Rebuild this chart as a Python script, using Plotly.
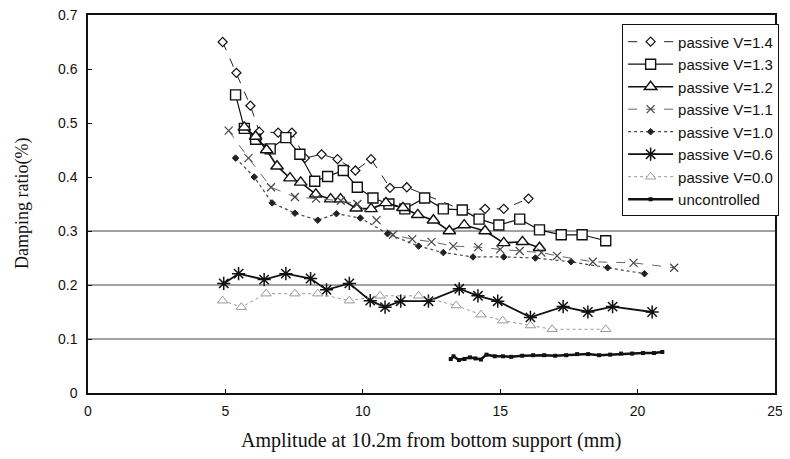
import plotly.graph_objects as go

# ---------------- data ----------------
v14_x = [4.90, 5.40, 5.91, 6.23, 6.92, 7.42, 7.89, 8.50, 9.08, 9.73, 10.30, 10.99, 11.60, 13.62, 14.45, 15.13, 16.03]
v14_y = [0.650, 0.593, 0.532, 0.484, 0.482, 0.482, 0.435, 0.442, 0.433, 0.412, 0.433, 0.380, 0.381, 0.339, 0.341, 0.341, 0.360]

v13_x = [5.37, 5.69, 6.10, 6.63, 7.20, 7.71, 8.25, 8.72, 9.29, 9.80, 10.37, 10.95, 11.53, 12.25, 12.93, 13.62, 14.23, 14.95, 15.71, 16.43, 17.22, 17.98, 18.84]
v13_y = [0.552, 0.490, 0.470, 0.452, 0.473, 0.442, 0.392, 0.401, 0.412, 0.381, 0.361, 0.350, 0.341, 0.361, 0.341, 0.339, 0.322, 0.311, 0.322, 0.302, 0.293, 0.293, 0.282]

v12_x = [5.69, 6.10, 6.50, 6.88, 7.35, 7.74, 8.29, 8.83, 9.19, 9.76, 10.30, 10.84, 11.46, 12.00, 12.57, 13.15, 13.69, 14.45, 15.13, 15.81, 16.43]
v12_y = [0.492, 0.475, 0.450, 0.420, 0.398, 0.390, 0.368, 0.359, 0.359, 0.342, 0.341, 0.352, 0.343, 0.330, 0.320, 0.300, 0.311, 0.300, 0.278, 0.280, 0.269]

v11_x = [5.12, 5.84, 6.66, 7.53, 8.30, 9.20, 9.80, 10.50, 11.10, 11.80, 12.50, 13.29, 14.20, 15.00, 15.71, 16.50, 17.07, 18.37, 19.85, 21.33]
v11_y = [0.486, 0.435, 0.381, 0.363, 0.360, 0.356, 0.350, 0.320, 0.293, 0.285, 0.280, 0.272, 0.270, 0.266, 0.263, 0.260, 0.254, 0.243, 0.241, 0.232]

v10_x = [5.37, 6.05, 6.70, 7.53, 8.36, 9.04, 9.91, 10.90, 12.03, 12.93, 14.01, 15.13, 16.28, 17.58, 18.91, 20.25]
v10_y = [0.435, 0.400, 0.352, 0.333, 0.320, 0.332, 0.324, 0.295, 0.272, 0.260, 0.252, 0.252, 0.250, 0.243, 0.232, 0.221]

v06_x = [4.94, 5.48, 6.41, 7.20, 8.10, 8.68, 9.51, 10.27, 10.81, 11.38, 12.39, 13.51, 14.19, 14.91, 16.10, 17.29, 18.19, 19.09, 20.53]
v06_y = [0.203, 0.221, 0.210, 0.221, 0.212, 0.191, 0.203, 0.171, 0.159, 0.170, 0.170, 0.193, 0.180, 0.170, 0.140, 0.160, 0.150, 0.160, 0.150]

v00_x = [4.90, 5.58, 6.48, 7.53, 8.36, 9.51, 10.63, 12.03, 13.40, 14.30, 15.09, 16.10, 16.89, 18.84]
v00_y = [0.171, 0.159, 0.184, 0.184, 0.184, 0.171, 0.180, 0.180, 0.162, 0.145, 0.134, 0.125, 0.118, 0.118]

unc_x = [13.2, 13.3, 13.5, 13.7, 13.9, 14.1, 14.3, 14.5, 14.8, 15.1, 15.4, 15.8, 16.2, 16.6, 17.0, 17.4, 17.8, 18.2, 18.6, 19.0, 19.4, 19.8, 20.2, 20.6, 20.9]
unc_y = [0.063, 0.068, 0.061, 0.063, 0.066, 0.064, 0.062, 0.071, 0.068, 0.068, 0.067, 0.069, 0.070, 0.070, 0.069, 0.070, 0.072, 0.072, 0.070, 0.071, 0.073, 0.073, 0.074, 0.074, 0.076]

grid_levels = [0.1, 0.2, 0.3]
x_ticks = [0, 5, 10, 15, 20, 25]
y_ticks = [0, 0.1, 0.2, 0.3, 0.4, 0.5, 0.6, 0.7]
y_tick_text = ["0", "0.1", "0.2", "0.3", "0.4", "0.5", "0.6", "0.7"]
x_title = "Amplitude at 10.2m from bottom support (mm)"
y_title = "Damping ratio(%)"

# ---------------- figure ----------------
fig = go.Figure()

def add(name, xs, ys, dash, lw, lc, symbol, msize, mline, mlc, fill="white"):
    fig.add_trace(go.Scatter(
        x=xs, y=ys, mode="lines+markers", name=name,
        line=dict(color=lc, width=lw, dash=dash),
        marker=dict(symbol=symbol, size=msize, color=fill,
                    line=dict(color=mlc, width=mline)),
    ))

add("passive V=1.4", v14_x, v14_y, "dash", 1, "#222", "diamond", 7, 1.2, "#111")
add("passive V=1.3", v13_x, v13_y, "solid", 1.2, "#111", "square", 10, 1.4, "#111")
add("passive V=1.2", v12_x, v12_y, "solid", 1.6, "#111", "triangle-up", 11, 1.4, "#111")
add("passive V=1.1", v11_x, v11_y, "dash", 1, "#666", "x-thin-open", 8, 1.2, "#444", fill="#444")
add("passive V=1.0", v10_x, v10_y, "dot", 1.2, "#444", "diamond", 5, 1, "#222", fill="#222")
add("passive V=0.6", v06_x, v06_y, "solid", 1.8, "#111", "asterisk-open", 11, 1.5, "#111", fill="#111")
add("passive V=0.0", v00_x, v00_y, "dot", 1, "#999", "triangle-up", 9, 1, "#999")
add("uncontrolled", unc_x, unc_y, "solid", 2.5, "#111", "square", 4, 0, "#111", fill="#111")

for g in grid_levels:
    fig.add_shape(type="line", xref="paper", x0=0, x1=1, yref="y", y0=g, y1=g,
                  line=dict(color="#444", width=1), layer="below")

# axis titles as annotations (exact placement)
fig.add_annotation(text=x_title, xref="paper", yref="paper", x=0.5, y=0, yshift=-47,
                   xanchor="center", yanchor="middle", showarrow=False,
                   font=dict(family="Liberation Serif, Times New Roman, serif", size=20, color="#111"))
fig.add_annotation(text=y_title, xref="paper", yref="paper", x=0, y=0.5, xshift=-66,
                   xanchor="center", yanchor="middle", textangle=-90, showarrow=False,
                   font=dict(family="Liberation Serif, Times New Roman, serif", size=18, color="#111"))

# the page body has an 8px margin, so the figure is shrunk by 8px to fit the window
fig.update_layout(
    width=782, height=451,
    margin=dict(l=80, r=15, t=7, b=66, autoexpand=False),
    paper_bgcolor="white", plot_bgcolor="white",
    font=dict(family="Liberation Sans, Arial, sans-serif", size=14, color="#111"),
    showlegend=True,
    legend=dict(
        x=1.006, y=0.975, xanchor="right", yanchor="top",
        bgcolor="white", bordercolor="#111", borderwidth=1,
        font=dict(family="Liberation Sans, Arial, sans-serif", size=15, color="#111"),
        tracegroupgap=0, itemwidth=45,
    ),
)

fig.update_xaxes(
    range=[0, 25], tickvals=x_ticks, ticks="inside", ticklen=4, tickcolor="#111",
    showline=True, linecolor="#111", linewidth=1.5, mirror=True, showgrid=False, zeroline=False,
    automargin=False, ticklabeloverflow="allow", ticklabelstandoff=4,
    tickfont=dict(family="Liberation Sans, Arial, sans-serif", size=14),
)
fig.update_yaxes(
    range=[0, 0.7], tickvals=y_ticks, ticktext=y_tick_text, ticks="inside", ticklen=4, tickcolor="#111",
    showline=True, linecolor="#111", linewidth=1.5, mirror=True, showgrid=False, zeroline=False,
    automargin=False, ticklabeloverflow="allow", ticklabelstandoff=6,
    tickfont=dict(family="Liberation Sans, Arial, sans-serif", size=14),
)

fig.write_html("out.html")
